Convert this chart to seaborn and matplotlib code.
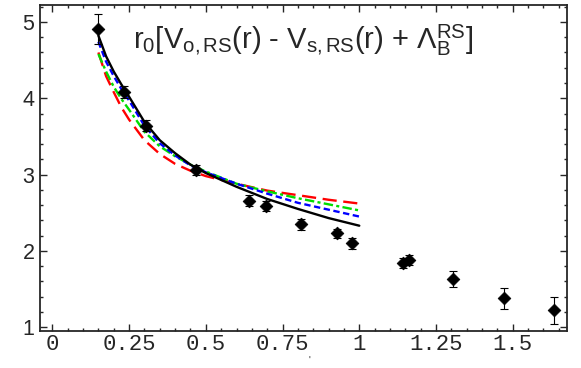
import numpy as np
import pandas as pd
import matplotlib
matplotlib.use("Agg")
import matplotlib.pyplot as plt
import seaborn as sns

# lattice points (r/r0, value, error)
r_pts = [0.150, 0.235, 0.306, 0.469, 0.642, 0.697, 0.811, 0.928, 0.977, 1.143, 1.163, 1.306, 1.472, 1.635]
v_pts = [4.91, 4.08, 3.64, 3.06, 2.66, 2.59, 2.35, 2.23, 2.10, 1.84, 1.88, 1.63, 1.38, 1.22]
e_pts = [0.20, 0.08, 0.07, 0.07, 0.07, 0.07, 0.07, 0.06, 0.07, 0.07, 0.07, 0.10, 0.14, 0.18]

# curves
r_cur = [0.15, 0.175, 0.2, 0.225, 0.25, 0.3, 0.35, 0.4, 0.45, 0.5, 0.6, 0.7, 0.8, 0.9, 1.0]
black = [4.82, 4.55, 4.35, 4.18, 4.02, 3.69, 3.45, 3.28, 3.13, 3.02, 2.84, 2.68, 2.55, 2.43, 2.33]
blue = [4.74, 4.48, 4.29, 4.12, 3.97, 3.64, 3.41, 3.25, 3.12, 3.03, 2.88, 2.75, 2.63, 2.54, 2.45]
green = [4.58, 4.35, 4.15, 3.99, 3.85, 3.56, 3.37, 3.24, 3.13, 3.04, 2.88, 2.78, 2.69, 2.61, 2.53]
red = [4.60, 4.29, 4.08, 3.88, 3.72, 3.45, 3.27, 3.14, 3.05, 2.98, 2.88, 2.79, 2.73, 2.67, 2.62]

sns.set_style("ticks")
plt.rcParams['font.family'] = ['Liberation Sans', 'DejaVu Sans']
plt.rcParams['mathtext.fontset'] = 'custom'
plt.rcParams['mathtext.rm'] = 'Liberation Sans'
plt.rcParams['mathtext.it'] = 'Liberation Serif:italic'

fig = plt.figure(figsize=(5.81, 3.68), dpi=100)
ax = fig.add_axes([0.069, 0.1005, 0.907, 0.8855])

curves = [(black, "black", "-"), (blue, "#0000ff", (0, (2.7, 1.5))),
          (green, "#00dd00", (0, (4.0, 1.4, 1.3, 1.4))), (red, "#ff0000", (0, (6.0, 2.8)))]
for vals, col, ls in curves[::-1]:
    d = pd.DataFrame({"r": r_cur, "v": vals})
    sns.lineplot(data=d, x="r", y="v", color=col, linestyle=ls, lw=1.7, ax=ax)

ax.errorbar(r_pts, v_pts, yerr=e_pts, fmt="none", ecolor="black", elinewidth=0.8,
            capsize=3, capthick=0.8, zorder=4)
pts = pd.DataFrame({"r": r_pts, "v": v_pts})
sns.scatterplot(data=pts, x="r", y="v", marker="D", s=42, color="black",
                edgecolor="black", zorder=5, ax=ax)

ax.set_xlim(-0.04, 1.677)
ax.set_ylim(0.95, 5.22)
ax.set_xticks([0, 0.25, 0.5, 0.75, 1, 1.25, 1.5])
ax.set_xticklabels(["0", "0.25", "0.5", "0.75", "1", "1.25", "1.5"],
                   family="Liberation Mono", fontsize=16)
ax.set_yticks([1, 2, 3, 4, 5])
ax.set_yticklabels(["1", "2", "3", "4", "5"], fontsize=15.5)
ax.set_xticks(np.arange(0, 1.68, 0.05), minor=True)
ax.set_yticks(np.arange(1, 5.21, 0.2), minor=True)
ax.tick_params(which="both", direction="in", top=True, right=True, width=1)
ax.tick_params(which="major", length=5, pad=4)
ax.tick_params(axis="x", which="major", pad=2.5)
ax.tick_params(which="minor", length=2.5)
for s in ax.spines.values():
    s.set_linewidth(1.3)
ax.set_xlabel("")
ax.set_ylabel("")

ax.text(0.264, 4.76,
        r"r$_0$[V$_{\mathrm{o,RS}}$(r) - V$_{\mathrm{s,RS}}$(r) + $\Lambda_{\mathrm{B}}^{\mathrm{RS}}$]",
        fontsize=21, va="center", ha="left")
fig.text(309 / 581, 1 - 361 / 368, "'", fontsize=7, ha="center", va="center")

fig.savefig("out.png", dpi=100)
